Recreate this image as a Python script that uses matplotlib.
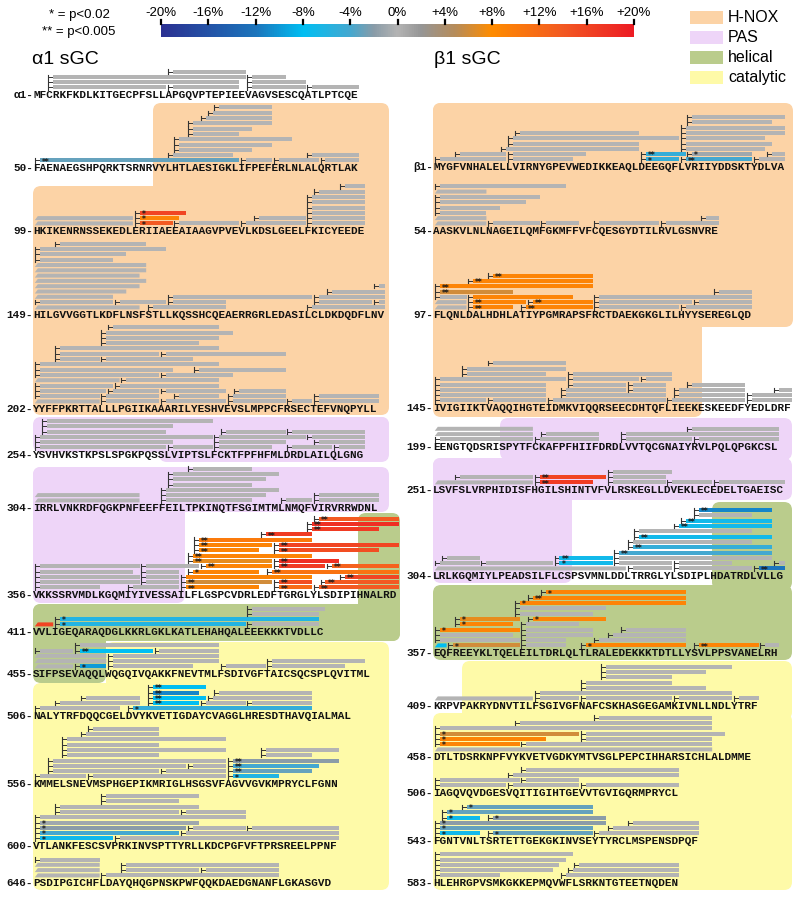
import numpy as np
import matplotlib
matplotlib.use('Agg')
import matplotlib.pyplot as plt
from matplotlib.colors import LinearSegmentedColormap, Normalize
from matplotlib.patches import FancyBboxPatch, Polygon, Rectangle

# ---------------- data ----------------
# peptide = (first, last) for unchanged, or (first, last, delta %, n stars)
# first < row start means the peptide continues from the previous line

a_starts = [1, 50, 99, 149, 202, 254, 304, 356, 411, 455, 506, 556, 600, 646]
a_labels = ['\u03b11', '50', '99', '149', '202', '254', '304', '356', '411', '455', '506', '556', '600', '646']
a_seqs = [
    'MFCRKFKDLKITGECPFSLLAPGQVPTEPIEEVAGVSESCQATLPTCQE',
    'FAENAEGSHPQRKTSRNRVYLHTLAESIGKLIFPEFERLNLALQRTLAK',
    'HKIKENRNSSEKEDLERIIAEEAIAAGVPVEVLKDSLGEELFKICYEEDE',
    'HILGVVGGTLKDFLNSFSTLLKQSSHCQEAERRGRLEDASILCLDKDQDFLNV',
    'YYFFPKRTTALLLPGIIKAAARILYESHVEVSLMPPCFRSECTEFVNQPYLL',
    'YSVHVKSTKPSLSPGKPQSSLVIPTSLFCKTFPFHFMLDRDLAILQLGNG',
    'IRRLVNKRDFQGKPNFEEFFEILTPKINQTFSGIMTMLNMQFVIRVRRWDNL',
    'VKKSSRVMDLKGQMIYIVESSAILFLGSPCVDRLEDFTGRGLYLSDIPIHNALRD',
    'VVLIGEQARAQDGLKKRLGKLKATLEHAHQALEEEKKKTVDLLC',
    'SIFPSEVAQQLWQGQIVQAKKFNEVTMLFSDIVGFTAICSQCSPLQVITML',
    'NALYTRFDQQCGELDVYKVETIGDAYCVAGGLHRESDTHAVQIALMAL',
    'KMMELSNEVMSPHGEPIKMRIGLHSGSVFAGVVGVKMPRYCLFGNN',
    'VTLANKFESCSVPRKINVSPTTYRLLKDCPGFVFTPRSREELPPNF',
    'PSDIPGICHFLDAYQHQGPNSKPWFQQKDAEDGNANFLGKASGVD',
]
a_peps = [
    [[(3, 20), (21, 31), (33, 41), (42, 49)],
     [(3, 31), (33, 41)],
     [(3, 32), (33, 38)],
     [(21, 32)]],
    [[(50, 80, -3, 2), (81, 85), (86, 92), (93, 98)],
     [(70, 79), (91, 98)],
     [(71, 82)], [(71, 85)], [(71, 88)], [(73, 80)], [(73, 82)],
     [(73, 85)], [(75, 85)], [(76, 85)], [(77, 85)]],
    [[(97, 113), (114, 119, 14, 1), (120, 129), (130, 139), (140, 148)],
     [(97, 113), (114, 120, 9, 1), (132, 139), (140, 148)],
     [(114, 121, 16, 1), (140, 148)],
     [(140, 148)], [(140, 148)], [(140, 148)], [(141, 148)], [(145, 148)]],
    [[(147, 164), (166, 177), (190, 201)],
     [(149, 160), (161, 168), (169, 177), (191, 199), (200, 201)],
     [(147, 160), (169, 190), (191, 201)],
     [(147, 162), (193, 201)],
     [(147, 164), (200, 201)],
     [(147, 165)], [(147, 164)], [(147, 165)], [(147, 165)],
     [(149, 160)], [(149, 162)], [(149, 168)], [(152, 165)]],
    [[(200, 211), (212, 220), (221, 230), (231, 239), (240, 243), (244, 253)],
     [(202, 211), (212, 220), (223, 229), (231, 239), (244, 253)],
     [(202, 212), (213, 220), (221, 230), (232, 239)],
     [(202, 213), (214, 229)],
     [(200, 214), (215, 229)],
     [(202, 220), (221, 231)],
     [(202, 222), (226, 239)],
     [(202, 229)],
     [(205, 211), (212, 225)],
     [(205, 220), (221, 239)],
     [(205, 229)], [(212, 226)], [(212, 229)], [(212, 231)], [(213, 229)]],
    [[(254, 273), (274, 280), (281, 289), (292, 298), (299, 303)],
     [(254, 274), (281, 291), (296, 303)],
     [(254, 280), (281, 294), (295, 303)],
     [(255, 273), (282, 291), (292, 303)],
     [(255, 274)], [(255, 280)]],
    [[(302, 319), (323, 336), (341, 345), (346, 355)],
     [(302, 319), (323, 338), (346, 355)],
     [(323, 340)], [(324, 336)], [(324, 338)], [(324, 340)], [(327, 336)]],
    [[(356, 365), (370, 377), (378, 389, 9, 2), (392, 397, 12, 2), (398, 410, 14, 2)],
     [(356, 371), (372, 377), (378, 391, 6, 2), (392, 397, 15, 2), (399, 410, 14, 2)],
     [(356, 371), (372, 377), (378, 397, 9, 0), (402, 410, 16, 2)],
     [(356, 370), (372, 377), (379, 389, 9, 1), (391, 410, 11, 2)],
     [(356, 371), (372, 380), (381, 391, 9, 2), (392, 399, 17, 2), (400, 410, 13, 2)],
     [(379, 391, 7, 2), (392, 401, 18, 2)],
     [(379, 397, 9, 2)],
     [(380, 389, 9, 2), (392, 407, 15, 2)],
     [(380, 391, 9, 2), (392, 410, 16, 2)],
     [(380, 397, 10, 2)],
     [(390, 397, 17, 2)],
     [(397, 407, 17, 2)],
     [(397, 410, 18, 2)],
     [(398, 410, 14, 2)]],
    [[(409, 413, 16, 0), (414, 442, -6, 1), (443, 453)],
     [(414, 453, -6, 1)],
     [(443, 453)], [(443, 454)]],
    [[(453, 460), (461, 465, -10, 1), (466, 478), (483, 489), (490, 501)],
     [(453, 465), (466, 482), (490, 504)],
     [(453, 465), (466, 482)],
     [(455, 460), (461, 472, -8, 2), (473, 482)],
     [(461, 482)]],
    [[(506, 518), (520, 547, -5, 1)],
     [(509, 521), (523, 530, -8, 2), (531, 537), (538, 547)],
     [(513, 521), (523, 531, -8, 2), (532, 547)],
     [(523, 530, -11, 2), (533, 547)],
     [(523, 531, -8, 2)]],
    [[(556, 563), (564, 584), (585, 592, -6, 1)],
     [(558, 574), (575, 584), (585, 597, -3, 2)],
     [(558, 578), (579, 584), (585, 598, -4, 2)],
     [(558, 584), (585, 601, -2, 2)],
     [(560, 574), (590, 597)],
     [(560, 584), (590, 601)],
     [(560, 574)], [(560, 584)], [(563, 574)], [(564, 574)]],
    [[(600, 611, -7, 1), (612, 645)],
     [(600, 621, -4, 1), (622, 645)],
     [(600, 622, -2, 1), (623, 631), (632, 645)],
     [(600, 624, -1, 1)],
     [(600, 631)],
     [(603, 621), (622, 631)],
     [(603, 624)], [(610, 621)], [(610, 624)]],
    [[(644, 655), (656, 682)],
     [(644, 655), (659, 670), (671, 682)],
     [(644, 655), (659, 682)],
     [(646, 655)]],
]

b_starts = [1, 54, 97, 145, 199, 251, 304, 357, 409, 458, 506, 543, 583]
b_labels = ['\u03b21', '54', '97', '145', '199', '251', '304', '357', '409', '458', '506', '543', '583']
b_seqs = [
    'MYGFVNHALELLVIRNYGPEVWEDIKKEAQLDEEGQFLVRIIYDDSKTYDLVA',
    'AASKVLNLNAGEILQMFGKMFFVFCQESGYDTILRVLGSNVRE',
    'FLQNLDALHDHLATIYPGMRAPSFRCTDAEKGKGLILHYYSEREGLQD',
    'IVIGIIKTVAQQIHGTEIDMKVIQQRSEECDHTQFLIEEKESKEEDFYEDLDRF',
    'EENGTQDSRISPYTFCKAFPFHIIFDRDLVVTQCGNAIYRVLPQLQPGKCSL',
    'LSVFSLVRPHIDISFHGILSHINTVFVLRSKEGLLDVEKLECEDELTGAEISC',
    'LRLKGQMIYLPEADSILFLCSPSVMNLDDLTRRGLYLSDIPLHDATRDLVLLG',
    'EQFREEYKLTQELEILTDRLQLTLRALEDEKKKTDTLLYSVLPPSVANELRH',
    'KRPVPAKRYDNVTILFSGIVGFNAFCSKHASGEGAMKIVNLLNDLYTRF',
    'DTLTDSRKNPFVYKVETVGDKYMTVSGLPEPCIHHARSICHLALDMME',
    'IAGQVQVDGESVQITIGIHTGEVVTGVIGQRMPRYCL',
    'FGNTVNLTSRTETTGEKGKINVSEYTYRCLMSPENSDPQF',
    'HLEHRGPVSMKGKKEPMQVWFLSRKNTGTEETNQDEN',
]
b_peps = [
    [[(1, 11), (12, 21), (32, 37, -5, 1), (38, 48, -4, 2), (49, 53)],
     [(4, 11), (12, 23), (32, 38, -5, 2), (39, 48, -1, 1), (51, 53)],
     [(11, 31), (38, 50)],
     [(12, 31), (38, 51)],
     [(12, 37), (38, 50)],
     [(13, 31), (38, 53)],
     [(38, 53)], [(39, 51)], [(39, 53)]],
    [[(52, 61), (62, 69), (70, 75), (78, 87), (88, 96)],
     [(52, 61), (94, 96)],
     [(54, 61)], [(54, 63)], [(54, 67)], [(54, 69)], [(52, 61)], [(54, 73)]],
    [[(95, 101), (102, 108, 9, 2), (110, 120, 9, 2), (121, 133), (134, 144)],
     [(95, 101), (102, 110, 9, 2), (111, 120, 9, 2), (121, 135), (136, 144)],
     [(97, 101), (102, 117, 9, 0), (121, 144)],
     [(97, 108, 6, 2), (139, 144)],
     [(97, 120, 9, 2)],
     [(102, 120, 9, 2)],
     [(105, 120, 9, 2)]],
    [[(145, 152), (153, 161), (162, 179), (180, 191), (192, 198)],
     [(145, 161), (164, 179), (181, 191), (192, 198)],
     [(145, 161), (164, 173), (174, 179), (181, 191), (196, 198)],
     [(145, 161), (165, 173), (174, 179), (183, 191)],
     [(145, 164), (165, 175), (176, 180)],
     [(149, 161), (165, 180)],
     [(149, 164)], [(153, 164)]],
    [[(199, 213), (214, 223), (227, 237), (238, 250)],
     [(197, 213), (215, 223), (227, 250)],
     [(197, 213), (237, 250)]],
    [[(249, 265), (266, 274, 17, 2), (277, 285), (286, 292), (293, 303)],
     [(254, 265), (266, 276, 16, 2), (277, 285)],
     [(277, 286)]],
    [[(302, 332), (333, 339), (340, 351), (352, 356, -12, 2)],
     [(304, 310), (311, 321), (322, 330, -7, 1), (331, 339), (340, 348), (355, 356)],
     [(305, 310), (322, 330, -7, 2), (331, 354)],
     [(331, 354, -4, 2)],
     [(333, 354, -5, 2)],
     [(333, 351)],
     [(334, 354, -7, 2)],
     [(334, 351)],
     [(340, 354, -7, 2)],
     [(341, 354, -7, 2)],
     [(343, 351)],
     [(343, 354, -11, 2)]],
    [[(355, 358, -8, 0), (359, 369, 6, 1), (370, 376), (379, 394, 9, 1), (396, 405, 9, 2), (406, 408)],
     [(357, 369), (370, 376), (381, 394)],
     [(357, 368), (370, 380), (383, 394)],
     [(357, 369, 9, 1), (370, 380), (385, 394)],
     [(360, 368, 9, 1), (370, 378)],
     [(360, 369, 7, 1), (371, 382, 9, 1)],
     [(369, 380)],
     [(369, 382)],
     [(369, 394, 9, 1)],
     [(371, 394, 9, 2)],
     [(373, 394, 9, 1)]],
    [[(407, 423), (424, 430), (431, 444), (445, 453), (454, 457)],
     [(424, 453)], [(431, 449)], [(431, 444)], [(434, 444)], [(434, 449)], [(434, 453)]],
    [[(456, 499)],
     [(458, 470, 9, 1), (471, 499)],
     [(458, 474, 9, 1), (480, 499)],
     [(458, 479, 6, 1), (480, 501)],
     [(458, 499)], [(470, 499)], [(482, 499)]],
    [[(506, 516), (517, 527), (528, 542)],
     [(506, 518), (519, 527)],
     [(517, 542)], [(519, 542)]],
    [[(543, 549, -7, 1), (551, 566, -3, 1), (567, 582)],
     [(543, 566, -3, 1), (569, 582)],
     [(543, 568, -2, 1), (572, 582)],
     [(544, 549, -7, 1), (551, 568, -2, 1)],
     [(544, 566, -3, 1)],
     [(547, 566, -3, 1)]],
    [[(583, 592), (602, 619)],
     [(583, 600), (603, 619)],
     [(583, 601), (604, 619)],
     [(583, 602)], [(583, 603)]],
]

cbar_ticks = [-20, -16, -12, -8, -4, 0, 4, 8, 12, 16, 20]
domains = ['H-NOX', 'PAS', 'helical', 'catalytic']
dom_colors = ['#fcd3a6', '#eed5f8', '#bacc8c', '#fefaa8']

# ---------------- layout ----------------
a_rowy = [95, 168, 231, 315, 409, 455, 508, 595, 632, 674, 716, 784, 846, 883]
b_rowy = [167, 231, 315, 408, 447, 490, 576, 653, 706, 757, 793, 841, 883]
X0 = {'a': 33.3, 'b': 433.3}
CW = 6.64
MONO = ['Liberation Mono', 'DejaVu Sans Mono']
SANS = ['Liberation Sans', 'DejaVu Sans']
GRAY = '#b4b4b4'

# domain shading boxes (pixels: x0, y0, x1, y1)
boxes = {
    'H-NOX': [(153, 103, 389, 300), (33, 186, 389, 415),
              (433, 103, 793, 327), (433, 103, 702, 417)],
    'PAS': [(33, 417, 389, 452), (159, 417, 389, 462), (33, 467, 389, 512),
            (33, 467, 185, 603),
            (500, 418, 792, 460), (433, 458, 792, 500), (433, 458, 572, 583)],
    'helical': [(358, 513, 400, 641), (33, 604, 400, 641), (33, 604, 106, 683),
                (712, 502, 792, 590), (433, 585, 792, 660)],
    'catalytic': [(106, 642, 389, 700), (33, 683, 389, 890),
                  (462, 661, 792, 720), (433, 713, 792, 890)],
}

cmap = LinearSegmentedColormap.from_list('hdx', [
    (0.0, '#2b3192'), (0.2, '#1c75bc'), (0.3, '#00bff3'), (0.4, '#45a8d0'),
    (0.45, '#8a9ca8'), (0.5, '#b4b4b4'), (0.55, '#969696'), (0.625, '#b88c58'),
    (0.7, '#ff8c00'), (0.85, '#f35a22'), (1.0, '#ed1c24')])
norm = Normalize(-20, 20)

fig = plt.figure(figsize=(8, 8.98), dpi=100)
ax = fig.add_axes([0, 0, 1, 1])
ax.set_xlim(0, 800)
ax.set_ylim(898, 0)
ax.axis('off')

for name, col in zip(domains, dom_colors):
    for (x1, y1, x2, y2) in boxes[name]:
        ax.add_patch(FancyBboxPatch((x1, y1), x2 - x1, y2 - y1,
                                    boxstyle='round,pad=0,rounding_size=8',
                                    fc=col, ec='none', zorder=0))


def draw_row(col, r0, label, seq, y, levels):
    x0 = X0[col]

    def rx(res):
        return x0 + (res - r0) * CW

    ax.text(x0, y + 3.4, seq, fontfamily=MONO, fontsize=CW / 0.6 * 0.72,
            fontweight='bold', ha='left', va='baseline', color='#111111', zorder=3)
    ax.text(x0, y + 3.4, label + '-', fontfamily=MONO, fontsize=CW / 0.6 * 0.72,
            fontweight='bold', ha='right', va='baseline', color='#111111', zorder=3)
    for k, level in enumerate(levels):
        yc = y - 7.6 - 5.3 * k
        for pep in level:
            first, last = pep[0], pep[1]
            delta = pep[2] if len(pep) > 2 else 0
            sig = pep[3] if len(pep) > 3 else 0
            color = GRAY if delta == 0 else cmap(norm(delta))
            xe = rx(last + 1)
            if first < r0:
                xs = rx(r0) + 1.5
                ax.add_patch(Polygon([(xs, yc + 2), (xs + 3, yc - 2), (xe, yc - 2), (xe, yc + 2)],
                                     closed=True, fc=color, ec='none', zorder=2))
                xst = xs + 3
            else:
                xt = rx(first) + 1.7
                xs = rx(first + 1)
                ax.plot([xt, xs], [yc, yc], color='#333333', lw=0.7, zorder=2)
                ax.plot([xt, xt], [yc - 2.2, yc + 2.2], color='#333333', lw=0.8, zorder=2)
                ax.add_patch(Rectangle((xs, yc - 2), xe - xs, 4, fc=color, ec='none', zorder=2))
                xst = xs
            if sig:
                ax.text(xst + 2, yc + 1.8, '*' * sig, fontsize=5.5, fontweight='bold',
                        ha='left', va='center', color='#1a1a1a', zorder=4)


for r0, lab, seq, y, lv in zip(a_starts, a_labels, a_seqs, a_rowy, a_peps):
    draw_row('a', r0, lab, seq, y, lv)
for r0, lab, seq, y, lv in zip(b_starts, b_labels, b_seqs, b_rowy, b_peps):
    draw_row('b', r0, lab, seq, y, lv)

# titles
ax.text(32, 60, '\u03b11 sGC', fontfamily=SANS, fontsize=14, ha='left', va='center')
ax.text(434, 60, '\u03b21 sGC', fontfamily=SANS, fontsize=14, ha='left', va='center')
ax.text(79, 15, '* = p<0.02', fontfamily=SANS, fontsize=9.5, ha='center', va='center')
ax.text(79, 32, '** = p<0.005', fontfamily=SANS, fontsize=9.5, ha='center', va='center')

# colour bar
cx0, cx1 = 161, 634
grad = np.linspace(-20, 20, 512).reshape(1, -1)
ax.imshow(grad, cmap=cmap, norm=norm, extent=(cx0, cx1, 37, 24), aspect='auto', zorder=1)
for v in cbar_ticks:
    xv = cx0 + (v + 20) / 40 * (cx1 - cx0)
    ax.plot([xv, xv], [19.5, 24], color='black', lw=1.6, zorder=2)
    lab = '0%' if v == 0 else ('+%d%%' % v if v > 0 else '%d%%' % v)
    ax.text(xv, 13, lab, fontfamily=SANS, fontsize=9.5, ha='center', va='center')

# legend
for i, (name, col) in enumerate(zip(domains, dom_colors)):
    yy = 17 + 20.3 * i
    ax.add_patch(Rectangle((690, yy - 6.5), 33, 13, fc=col, ec='none'))
    ax.text(728, yy, name, fontfamily=SANS, fontsize=11.5, ha='left', va='center')

fig.savefig('out.png', dpi=100)
